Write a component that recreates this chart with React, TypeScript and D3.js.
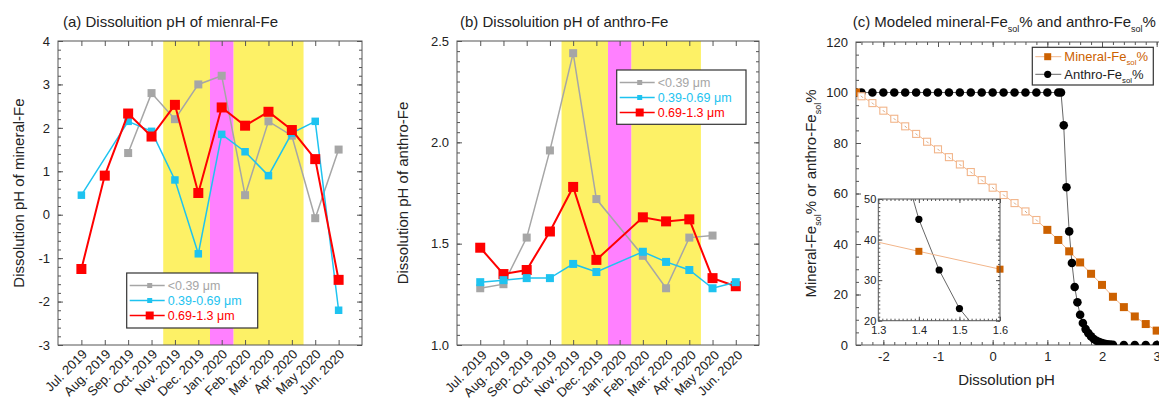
import React from "react";
import * as d3 from "d3";

// months on the x axis of panels (a) and (b)
const months = ["Jul. 2019", "Aug. 2019", "Sep. 2019", "Oct. 2019", "Nov. 2019", "Dec. 2019",
                "Jan. 2020", "Feb. 2020", "Mar. 2020", "Apr. 2020", "May 2020", "Jun. 2020"];
const sizeBins = ["<0.39 μm", "0.39-0.69 μm", "0.69-1.3 μm"];

// (a) dissolution pH of mineral-Fe, null = no sample
const mineralFine   = [null, null, 1.42, 2.8, 2.2, 3.0, 3.2, 0.45, 2.15, 1.82, -0.08, 1.5];
const mineralMid    = [0.45, null, 2.15, 1.92, 0.8, -0.9, 1.85, 1.45, 0.9, 1.88, 2.15, -2.2];
const mineralCoarse = [-1.25, 0.9, 2.33, 1.8, 2.53, 0.5, 2.47, 2.05, 2.37, 1.95, 1.28, -1.5];

// (b) dissolution pH of anthro-Fe
const anthroFine   = [1.28, 1.30, 1.53, 1.96, 2.44, 1.72, null, 1.44, 1.28, 1.53, 1.54, null];
const anthroMid    = [1.31, 1.32, 1.33, 1.33, 1.40, 1.36, null, 1.46, 1.41, 1.37, 1.28, 1.31];
const anthroCoarse = [1.48, 1.35, 1.37, 1.56, 1.78, 1.42, null, 1.63, 1.61, 1.62, 1.33, 1.29];

// shaded periods, in month index units
const yellowBands = [[3.5, 5.5], [6.5, 9.5]];
const magentaBands = [[5.5, 6.5]];

// (c) modeled soluble fraction vs. pH
const mineralPh = [-2.5, -2.4, -2.2, -2.0, -1.8, -1.6, -1.4, -1.2, -1.0, -0.8, -0.6, -0.4, -0.2, 0.0,
                   0.2, 0.4, 0.6, 0.8, 1.0, 1.2, 1.4, 1.6, 1.8, 2.0, 2.2, 2.4, 2.6, 2.8, 3.0];
const mineralSol = [100, 98.5, 95.8, 92.8, 89.6, 86.6, 83.6, 80.5, 77.5, 74.4, 71.5, 68.5, 65.3, 62.3,
                    59.4, 56.2, 52.9, 49.5, 45.6, 41.6, 37.1, 32.7, 28.2, 23.8, 19.1, 15.0, 11.3, 8.3, 5.7];
const anthroPh = [-2.5, -2.4, -2.2, -2.0, -1.8, -1.6, -1.4, -1.2, -1.0, -0.8, -0.6, -0.4, -0.2, 0.0,
                  0.2, 0.4, 0.6, 0.8, 1.0, 1.2, 1.25, 1.3, 1.35, 1.4, 1.45, 1.5, 1.55, 1.6, 1.65,
                  1.7, 1.75, 1.8, 1.85, 1.9, 1.95, 2.0, 2.05, 2.1, 2.15, 2.2, 2.4, 2.6, 2.8, 3.0];
const anthroSol = [100, 100, 100, 100, 100, 100, 100, 100, 100, 100, 100, 100, 100, 100,
                   100, 100, 100, 100, 100, 100, 100, 87, 62.5, 45, 32.5, 23, 16.9, 12, 8.7,
                   6.3, 4.7, 3.4, 2.4, 1.7, 1.2, 0.8, 0.5, 0.3, 0.2, 0.1, 0, 0, 0, 0];

const FONT = "'Liberation Sans', Arial, Helvetica, sans-serif";
const FRAME = "#555";
const YELLOW = "#fdf166";
const MAGENTA = "#ff80ff";
const GRAY = "#a6a6a6";
const CYAN = "#1ec3f0";
const RED = "#ff0000";
const ORANGE = "#cc6100";
const LIGHT_ORANGE = "#f2b58a";

const width = 1159;
const height = 399;

// adds an axis with inward ticks and no domain line
const addAxis = (g, axis, tx, ty, fontSize = 13) => {
    const a = g.append("g")
        .attr("transform", `translate(${tx},${ty})`)
        .call(axis);
    a.select(".domain").remove();
    a.attr("font-family", FONT).attr("font-size", fontSize).attr("color", "#222");
    a.selectAll("line").attr("stroke", FRAME);
    return a;
};

const frameTicks = (g, x, y, xMajor, xMinor, yMajor, yMinor, majorLen, minorLen) => {
    const [l, r] = x.range();
    const [b, t] = y.range();
    const sides = [
        [d3.axisBottom, x, b, xMajor, xMinor, true],
        [d3.axisTop, x, t, xMajor, xMinor, true],
        [d3.axisLeft, y, l, yMajor, yMinor, false],
        [d3.axisRight, y, r, yMajor, yMinor, false]
    ];
    for (const [mk, sc, pos, major, minor, horiz] of sides) {
        const tx = horiz ? 0 : pos;
        const ty = horiz ? pos : 0;
        if (minor) {
            addAxis(g, mk(sc).tickValues(minor).tickFormat("").tickSizeInner(-minorLen).tickSizeOuter(0), tx, ty);
        }
        addAxis(g, mk(sc).tickValues(major).tickFormat("").tickSizeInner(-majorLen).tickSizeOuter(0), tx, ty);
    }
};

const drawMonthPanel = (svg, cfg) => {
    const g = svg.append("g");
    const x = d3.scaleLinear().domain([-1, 12]).range([cfg.left, cfg.right]);
    const y = d3.scaleLinear().domain(cfg.yDomain).range([cfg.bottom, cfg.top]);

    g.append("g").selectAll("rect").data(yellowBands).enter().append("rect")
        .attr("x", d => x(d[0])).attr("width", d => x(d[1]) - x(d[0]))
        .attr("y", cfg.top).attr("height", cfg.bottom - cfg.top)
        .attr("fill", YELLOW);
    g.append("g").selectAll("rect").data(magentaBands).enter().append("rect")
        .attr("x", d => x(d[0])).attr("width", d => x(d[1]) - x(d[0]))
        .attr("y", cfg.top).attr("height", cfg.bottom - cfg.top)
        .attr("fill", MAGENTA);

    const monthIdx = months.map((_, i) => i);
    frameTicks(g, x, y, monthIdx, null, cfg.yMajor, y.ticks(cfg.minorCount), 5, 3);

    // y labels
    addAxis(g, d3.axisLeft(y).tickValues(cfg.yMajor).tickFormat(cfg.yFormat).tickSize(0).tickPadding(8), cfg.left, 0);

    // rotated month labels
    const bx = addAxis(g, d3.axisBottom(x).tickValues(monthIdx).tickFormat(i => months[i]).tickSize(0), 0, cfg.bottom);
    bx.selectAll("text")
        .attr("y", 0).attr("dy", null)
        .attr("transform", `translate(${cfg.labelDx},${cfg.labelDy}) rotate(-45)`)
        .style("text-anchor", "end");

    g.append("rect")
        .attr("x", cfg.left).attr("y", cfg.top)
        .attr("width", cfg.right - cfg.left).attr("height", cfg.bottom - cfg.top)
        .attr("fill", "none").attr("stroke", FRAME).attr("stroke-width", 1);

    const line = d3.line().x(d => x(d.i)).y(d => y(d.v));
    for (const s of cfg.series) {
        const pts = s.values.map((v, i) => ({i, v})).filter(d => d.v !== null);
        g.append("path").datum(pts).attr("d", line)
            .attr("fill", "none").attr("stroke", s.color).attr("stroke-width", s.lw);
        g.append("g").selectAll("rect").data(pts).enter().append("rect")
            .attr("x", d => x(d.i) - s.size / 2).attr("y", d => y(d.v) - s.size / 2)
            .attr("width", s.size).attr("height", s.size)
            .attr("fill", s.color);
    }

    // legend
    const lg = g.append("g");
    lg.append("rect").attr("x", cfg.legend.x).attr("y", cfg.legend.y)
        .attr("width", cfg.legend.w).attr("height", cfg.legend.h)
        .attr("fill", "#fff").attr("stroke", "#333").attr("stroke-width", 1.2);
    cfg.legendSeries.forEach((s, k) => {
        const cy = cfg.legend.y + 12.5 + k * 15;
        const x0 = cfg.legend.x + 3;
        lg.append("line").attr("x1", x0).attr("x2", x0 + 35).attr("y1", cy).attr("y2", cy)
            .attr("stroke", s.color).attr("stroke-width", s.lw);
        lg.append("rect").attr("x", x0 + 20 - s.lsize / 2).attr("y", cy - s.lsize / 2)
            .attr("width", s.lsize).attr("height", s.lsize).attr("fill", s.color);
        lg.append("text").attr("x", x0 + 38).attr("y", cy + 4.5)
            .attr("font-family", FONT).attr("font-size", 12.5).attr("fill", s.color)
            .text(sizeBins[k]);
    });

    g.append("text").attr("x", cfg.titleX).attr("y", 27)
        .attr("font-family", FONT).attr("font-size", 15).attr("fill", "#222")
        .text(cfg.title);
    g.append("text")
        .attr("transform", `translate(${cfg.yLabelX},${(cfg.top + cfg.bottom) / 2}) rotate(-90)`)
        .attr("text-anchor", "middle")
        .attr("font-family", FONT).attr("font-size", 15).attr("fill", "#222")
        .text(cfg.yLabel);
};

const subText = (sel, parts, size) => {
    // parts: [text, isSub]
    for (const [t, sub] of parts) {
        const ts = sel.append("tspan").text(t);
        if (sub) {
            ts.attr("font-size", size * 0.6).attr("dy", size * 0.3);
        } else {
            ts.attr("dy", sel.selectAll("tspan").size() > 1 ? -size * 0.3 : 0);
        }
    }
};

const drawModelPanel = (svg) => {
    const g = svg.append("g");
    const left = 856, right = 1184, top = 42, bottom = 345;
    const x = d3.scaleLinear().domain([-2.5, 3.5]).range([left, right]);
    const y = d3.scaleLinear().domain([0, 120]).range([bottom, top]);

    const clipId = "clipC";
    g.append("clipPath").attr("id", clipId).append("rect")
        .attr("x", left).attr("y", top).attr("width", right - left).attr("height", bottom - top);

    frameTicks(g, x, y, x.ticks(6), x.ticks(30), y.ticks(6), y.ticks(24), 5, 3);
    addAxis(g, d3.axisLeft(y).ticks(6).tickFormat(d => String(d)).tickSize(0).tickPadding(8), left, 0);
    addAxis(g, d3.axisBottom(x).ticks(6).tickFormat(d => String(d)).tickSize(0).tickPadding(7), 0, bottom);

    g.append("rect").attr("x", left).attr("y", top)
        .attr("width", right - left).attr("height", bottom - top)
        .attr("fill", "none").attr("stroke", FRAME);

    const mineral = mineralPh.map((p, i) => ({p, v: mineralSol[i]}));
    const anthro = anthroPh.map((p, i) => ({p, v: anthroSol[i]}));

    const drawSeries = (gg, xs, ys, sq, circ, sqSize, r, openRange) => {
        const line = d3.line().x(d => xs(d.p)).y(d => ys(d.v));
        gg.append("path").datum(circ).attr("d", line)
            .attr("fill", "none").attr("stroke", "#666").attr("stroke-width", 1);
        gg.append("g").selectAll("circle").data(circ).enter().append("circle")
            .attr("cx", d => xs(d.p)).attr("cy", d => ys(d.v)).attr("r", r).attr("fill", "#000");
        gg.append("path").datum(sq).attr("d", line)
            .attr("fill", "none").attr("stroke", LIGHT_ORANGE).attr("stroke-width", 1);
        const isOpen = d => openRange && d.p > openRange[0] && d.p < openRange[1];
        gg.append("g").selectAll("rect").data(sq.filter(d => !isOpen(d))).enter().append("rect")
            .attr("x", d => xs(d.p) - sqSize / 2).attr("y", d => ys(d.v) - sqSize / 2)
            .attr("width", sqSize).attr("height", sqSize).attr("fill", ORANGE);
        const open = gg.append("g").selectAll("g").data(sq.filter(isOpen)).enter().append("g")
            .attr("transform", d => `translate(${xs(d.p)},${ys(d.v)})`);
        open.append("rect").attr("x", -3.5).attr("y", -3.5).attr("width", 7).attr("height", 7)
            .attr("fill", "#fff").attr("stroke", LIGHT_ORANGE).attr("stroke-width", 1.1);
        open.append("line").attr("x1", -0.5).attr("y1", -0.5).attr("x2", 1.5).attr("y2", 1.5)
            .attr("stroke", "#c98a5c").attr("stroke-width", 0.8);
    };

    const data = g.append("g").attr("clip-path", `url(#${clipId})`);
    drawSeries(data, x, y, mineral, anthro, 8, 4.3, [-2.45, 0.9]);

    // inset
    const il = 878.3, ir = 1000, it = 199, ib = 320.7;
    const xi = d3.scaleLinear().domain([1.3, 1.6]).range([il, ir]);
    const yi = d3.scaleLinear().domain([20, 50]).range([ib, it]);
    const ig = g.append("g");
    ig.append("rect").attr("x", il).attr("y", it).attr("width", ir - il).attr("height", ib - it)
        .attr("fill", "#fff");
    ig.append("clipPath").attr("id", "clipInset").append("rect")
        .attr("x", il).attr("y", it).attr("width", ir - il).attr("height", ib - it);
    frameTicks(ig, xi, yi, xi.ticks(3), xi.ticks(30), yi.ticks(3), yi.ticks(30), 4, 2);
    addAxis(ig, d3.axisLeft(yi).ticks(3).tickFormat(d => String(d)).tickSize(0).tickPadding(2), il, 0, 11);
    addAxis(ig, d3.axisBottom(xi).ticks(3).tickFormat(d3.format(".1f")).tickSize(0).tickPadding(6), 0, ib, 11);
    const inData = ig.append("g").attr("clip-path", "url(#clipInset)");
    const inDomain = d => d.p >= 1.299 && d.p <= 1.601;
    // lines use all points (clipped), markers only inside the inset domain
    const lineI = d3.line().x(d => xi(d.p)).y(d => yi(d.v));
    inData.append("path").datum(anthro).attr("d", lineI)
        .attr("fill", "none").attr("stroke", "#666").attr("stroke-width", 1);
    inData.append("path").datum(mineral).attr("d", lineI)
        .attr("fill", "none").attr("stroke", LIGHT_ORANGE).attr("stroke-width", 1);
    ig.append("g").selectAll("circle").data(anthro.filter(d => inDomain(d) && d.v >= 20 && d.v <= 50)).enter()
        .append("circle").attr("cx", d => xi(d.p)).attr("cy", d => yi(d.v)).attr("r", 3.6).attr("fill", "#000");
    ig.append("g").selectAll("rect").data(mineral.filter(d => inDomain(d))).enter()
        .append("rect").attr("x", d => xi(d.p) - 3.5).attr("y", d => yi(d.v) - 3.5)
        .attr("width", 7).attr("height", 7).attr("fill", ORANGE);
    ig.append("rect").attr("x", il).attr("y", it).attr("width", ir - il).attr("height", ib - it)
        .attr("fill", "none").attr("stroke", FRAME);

    // legend
    const lx = 1032.3, ly = 47.3;
    const lg = g.append("g");
    lg.append("rect").attr("x", lx).attr("y", ly).attr("width", 121).attr("height", 37.7)
        .attr("fill", "#fff").attr("stroke", "#333").attr("stroke-width", 1.2);
    lg.append("line").attr("x1", lx + 3).attr("x2", lx + 29).attr("y1", ly + 9.4).attr("y2", ly + 9.4)
        .attr("stroke", LIGHT_ORANGE);
    lg.append("rect").attr("x", lx + 15.4 - 3.5).attr("y", ly + 9.4 - 3.5).attr("width", 7).attr("height", 7)
        .attr("fill", ORANGE);
    lg.append("line").attr("x1", lx + 3).attr("x2", lx + 29).attr("y1", ly + 27).attr("y2", ly + 27)
        .attr("stroke", "#666");
    lg.append("circle").attr("cx", lx + 15.4).attr("cy", ly + 27).attr("r", 3.6).attr("fill", "#000");
    const t1 = lg.append("text").attr("x", lx + 32).attr("y", ly + 14)
        .attr("font-family", FONT).attr("font-size", 13).attr("fill", ORANGE);
    subText(t1, [["Mineral-Fe", false], ["sol", true], ["%", false]], 13);
    const t2 = lg.append("text").attr("x", lx + 32).attr("y", ly + 31.5)
        .attr("font-family", FONT).attr("font-size", 13).attr("fill", "#222");
    subText(t2, [["Anthro-Fe", false], ["sol", true], ["%", false]], 13);

    // titles
    const title = g.append("text").attr("x", 852.7).attr("y", 27)
        .attr("font-family", FONT).attr("font-size", 15).attr("fill", "#222");
    subText(title, [["(c) Modeled mineral-Fe", false], ["sol", true], ["% and anthro-Fe", false], ["sol", true], ["%", false]], 15);
    const yl = g.append("text")
        .attr("transform", `translate(816,${(top + bottom) / 2}) rotate(-90)`)
        .attr("text-anchor", "middle")
        .attr("font-family", FONT).attr("font-size", 15).attr("fill", "#222");
    subText(yl, [["Mineral-Fe", false], ["sol", true], ["% or anthro-Fe", false], ["sol", true], ["%", false]], 15);
    g.append("text").attr("x", (left + 1157) / 2).attr("y", 385)
        .attr("text-anchor", "middle")
        .attr("font-family", FONT).attr("font-size", 15).attr("fill", "#222")
        .text("Dissolution pH");
};

export default function App() {
    const svgRef = React.useRef(null);

    React.useEffect(() => {
        const svg = d3.select(svgRef.current);
        svg.selectAll("*").remove();

        drawMonthPanel(svg, {
            left: 58, right: 362, top: 41, bottom: 345,
            yDomain: [-3, 4], yMajor: [-3, -2, -1, 0, 1, 2, 3, 4], minorCount: 35,
            yFormat: d => String(d),
            labelDx: 6, labelDy: 10,
            title: "(a) Dissoluition pH of mienral-Fe", titleX: 63,
            yLabel: "Dissolution pH of mineral-Fe", yLabelX: 23.5,
            series: [
                {values: mineralFine, color: GRAY, size: 8, lw: 1.5},
                {values: mineralMid, color: CYAN, size: 7.5, lw: 1.5},
                {values: mineralCoarse, color: RED, size: 10, lw: 2}
            ],
            legend: {x: 126.7, y: 273, w: 131, h: 55},
            legendSeries: [
                {color: GRAY, lw: 1.5, lsize: 5},
                {color: CYAN, lw: 1.5, lsize: 5},
                {color: RED, lw: 1.5, lsize: 8}
            ]
        });

        drawMonthPanel(svg, {
            left: 457, right: 759, top: 41, bottom: 345,
            yDomain: [1.0, 2.5], yMajor: [1.0, 1.5, 2.0, 2.5], minorCount: 30,
            yFormat: d3.format(".1f"),
            labelDx: 7, labelDy: 11,
            title: "(b) Dissoluition pH of anthro-Fe", titleX: 460,
            yLabel: "Dissolution pH of anthro-Fe", yLabelX: 408,
            series: [
                {values: anthroFine, color: GRAY, size: 8, lw: 1.5},
                {values: anthroCoarse, color: RED, size: 10, lw: 2},
                {values: anthroMid, color: CYAN, size: 8, lw: 1.5}
            ],
            legend: {x: 616.7, y: 70, w: 129.3, h: 54.3},
            legendSeries: [
                {color: GRAY, lw: 1.5, lsize: 5},
                {color: CYAN, lw: 1.5, lsize: 5},
                {color: RED, lw: 1.5, lsize: 8}
            ]
        });

        drawModelPanel(svg);
    }, []);

    return (
        <svg ref={svgRef} width={width} height={height}
             style={{position: "absolute", left: 0, top: 0, background: "#fff"}} />
    );
}
